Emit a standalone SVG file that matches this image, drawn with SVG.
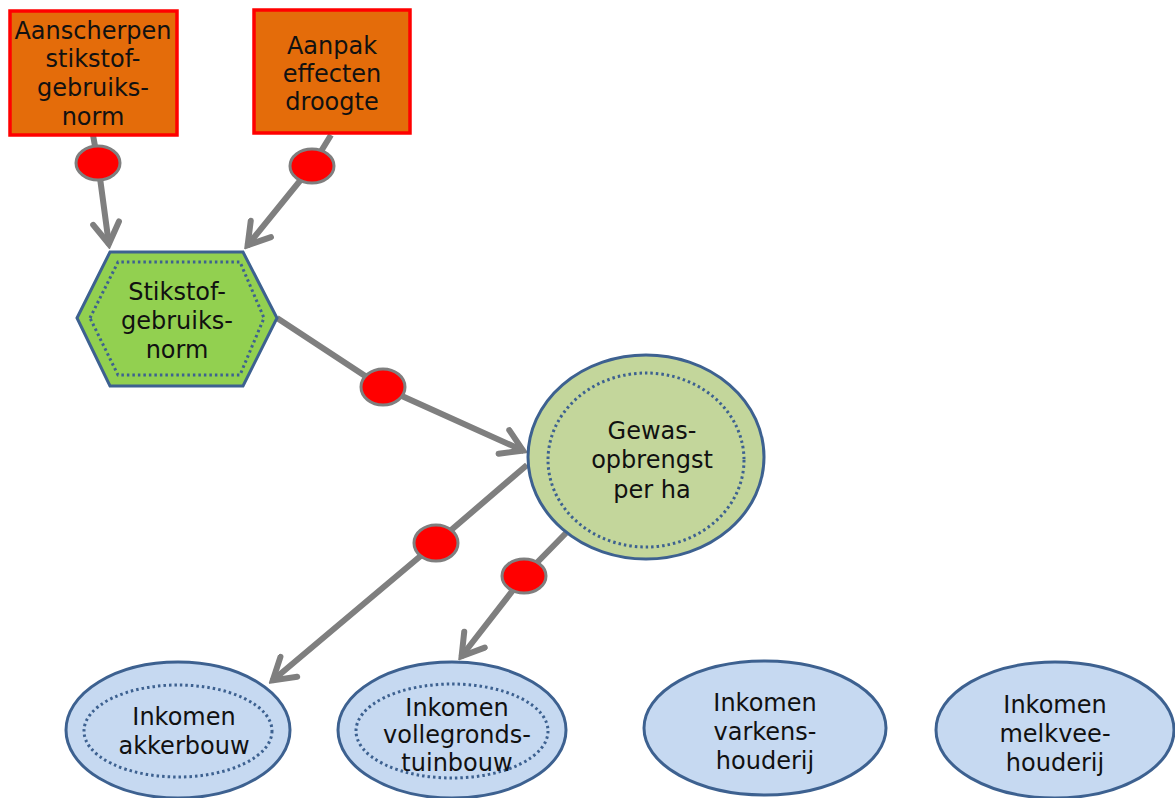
<svg xmlns="http://www.w3.org/2000/svg" width="1175" height="798" viewBox="0 0 1175 798">
<style>
text{font-family:"DejaVu Sans","Noto Sans",sans-serif;font-size:24px;fill:#111;text-anchor:middle}
.box{fill:#E46C0A;stroke:#FF0000;stroke-width:3.5}
.out{stroke:#3D6190;stroke-width:3}
.dot{fill:none;stroke:#3D6190;stroke-width:3;stroke-dasharray:2.5 3}
.con{fill:none;stroke:#7F7F7F;stroke-width:6}
.red{fill:#FF0000;stroke:#7F7F7F;stroke-width:3}
</style>
<defs>
<marker id="arr" viewBox="-26 -16 30 32" markerWidth="30" markerHeight="32" refX="0" refY="0" orient="auto" markerUnits="userSpaceOnUse">
<path d="M-22,-13 L-1,0 L-22,13" fill="none" stroke="#7F7F7F" stroke-width="6" stroke-linecap="round"/>
</marker>
</defs>
<rect width="1175" height="798" fill="#fff"/>
<g id="connectors">
<path class="con" d="M93,135 L98,163 L109,245" marker-end="url(#arr)"/>
<path class="con" d="M331,135 L312,166 L247,246" marker-end="url(#arr)"/>
<path class="con" d="M277,318 L382,387 L524,451" marker-end="url(#arr)"/>
<path class="con" d="M527,465 L436,543 L272,681" marker-end="url(#arr)"/>
<path class="con" d="M566,533 L524,576 L461,657" marker-end="url(#arr)"/>
<ellipse class="red" cx="98" cy="163" rx="22" ry="17"/>
<ellipse class="red" cx="312" cy="166" rx="22" ry="17"/>
<ellipse class="red" cx="383" cy="387" rx="22" ry="18"/>
<ellipse class="red" cx="436" cy="543" rx="22" ry="18"/>
<ellipse class="red" cx="524" cy="576" rx="22" ry="17"/>
</g>
<g id="aanscherpen">
<rect class="box" x="10" y="11" width="167" height="124"/>
<text x="93" y="39">Aanscherpen</text>
<text x="93" y="67">stikstof-</text>
<text x="93" y="96">gebruiks-</text>
<text x="93" y="125">norm</text>
</g>
<g id="aanpak">
<rect class="box" x="254" y="10" width="156" height="123"/>
<text x="332" y="54">Aanpak</text>
<text x="332" y="82">effecten</text>
<text x="332" y="110">droogte</text>
</g>
<g id="stikstof">
<polygon class="out" fill="#92D050" points="77,318 110,252 243,252 277,318 243,386 110,386"/>
<polygon class="dot" points="90,318 118,262 240,262 264,318 240,375 118,375"/>
<text x="177" y="300">Stikstof-</text>
<text x="177" y="329">gebruiks-</text>
<text x="177" y="358">norm</text>
</g>
<g id="gewas">
<ellipse class="out" fill="#C3D69B" cx="646" cy="457" rx="118" ry="102"/>
<ellipse class="dot" cx="646" cy="460" rx="98" ry="87"/>
<text x="652" y="439">Gewas-</text>
<text x="652" y="468">opbrengst</text>
<text x="652" y="498">per ha</text>
</g>
<g id="akkerbouw">
<ellipse class="out" fill="#C6D9F1" cx="178" cy="730" rx="112" ry="68"/>
<ellipse class="dot" cx="178" cy="731" rx="94" ry="46"/>
<text x="184" y="725">Inkomen</text>
<text x="184" y="754">akkerbouw</text>
</g>
<g id="vollegronds">
<ellipse class="out" fill="#C6D9F1" cx="452" cy="730" rx="114" ry="68"/>
<ellipse class="dot" cx="452" cy="731" rx="96" ry="47"/>
<text x="457" y="716">Inkomen</text>
<text x="457" y="743">vollegronds-</text>
<text x="457" y="771">tuinbouw</text>
</g>
<g id="varkens">
<ellipse class="out" fill="#C6D9F1" cx="765" cy="728" rx="121" ry="67"/>
<text x="765" y="711">Inkomen</text>
<text x="765" y="740">varkens-</text>
<text x="765" y="769">houderij</text>
</g>
<g id="melkvee">
<ellipse class="out" fill="#C6D9F1" cx="1055" cy="730" rx="119" ry="68"/>
<text x="1055" y="713">Inkomen</text>
<text x="1055" y="742">melkvee-</text>
<text x="1055" y="771">houderij</text>
</g>
</svg>
